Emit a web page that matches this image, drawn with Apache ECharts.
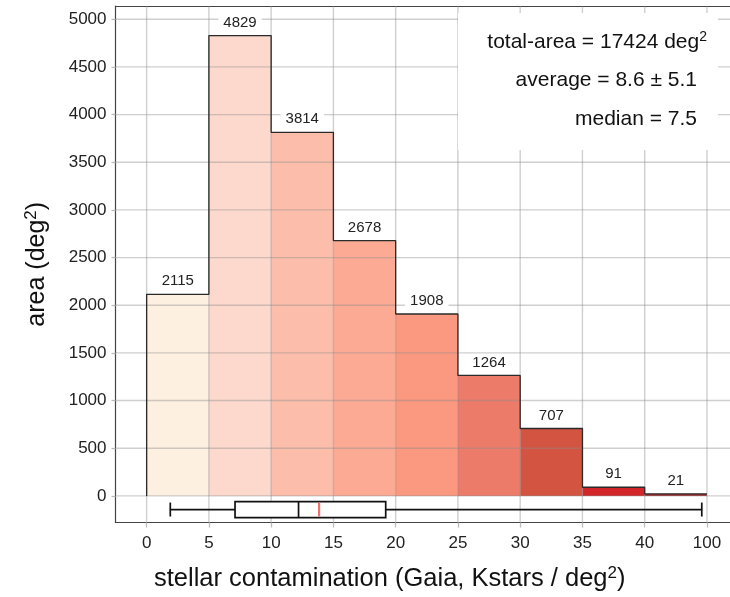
<!DOCTYPE html>
<html><head><meta charset="utf-8">
<script src="https://cdn.jsdelivr.net/npm/echarts@6.0.0/dist/echarts.min.js"></script>
<style>html,body{margin:0;padding:0;background:#fff}#chart{width:730px;height:597px}</style>
</head><body><div id="chart"></div>
<script>
// ---- data ----
const binEdgeLabels = ['0','5','10','15','20','25','30','35','40','100'];
const binEdges = [0,5,10,15,20,25,30,35,40,100];
const areas = [2115,4829,3814,2678,1908,1264,707,91,21];
const yTicks = [0,500,1000,1500,2000,2500,3000,3500,4000,4500,5000];
const boxStats = [1.9, 7.1, 12.2, 19.2, 95]; // low whisker, Q1, median, Q3, high whisker
const meanValue = 13.85;
const statTotal = 'total-area = 17424 deg';
const statAverage = 'average = 8.6 \u00b1 5.1';
const statMedian = 'median = 7.5';

// ---- styles ----
const barColors = ['#fdf0e0','#fdd9cd','#fcbeab','#fcaa94','#fa9880','#ec7b6a','#d45442','#d2262a','#a52a2a'];
const FONT = "'Liberation Sans', Arial, Helvetica, sans-serif";
const GRID_COLOR = 'rgba(140,140,140,0.42)';
const BOX_Y = -143;

function toIdx(v) {
  for (let i = 0; i < binEdges.length - 1; i++) {
    if (v <= binEdges[i + 1]) return i + (v - binEdges[i]) / (binEdges[i + 1] - binEdges[i]);
  }
  return binEdges.length - 1;
}
const tickIdx = binEdges.map((_, i) => i);

const outline = [[0, 0]];
areas.forEach((v, i) => { outline.push([i, v]); outline.push([i + 1, v]); });

const chart = echarts.init(document.getElementById('chart'), null, {renderer: 'canvas'});
chart.setOption({
  animation: false,
  backgroundColor: '#fff',
  textStyle: {fontFamily: FONT},
  grid: {left: 115.5, top: 6, right: 0, bottom: 73, containLabel: false},
  xAxis: [{
    type: 'value', min: -0.5, max: 9.37, position: 'bottom',
    axisLine: {show: true, onZero: false, lineStyle: {color: '#444', width: 1.2}},
    axisTick: {show: true, customValues: tickIdx, length: 5, lineStyle: {color: '#bbb', width: 1.3}},
    axisLabel: {customValues: tickIdx, formatter: v => binEdgeLabels[Math.round(v)], fontSize: 17, color: '#222', margin: 12, fontFamily: FONT},
    splitLine: {show: false},
    name: 'stellar contamination (Gaia, Kstars / deg{sup|2})', nameLocation: 'middle', nameGap: 42,
    nameTextStyle: {fontSize: 25.5, color: '#111', fontFamily: FONT, padding: [0, 66, 0, 0],
      rich: {sup: {fontSize: 17, color: '#111', fontFamily: FONT, padding: [0, 0, 12, 0]}}}
  }, {
    type: 'value', min: -0.5, max: 9.37, position: 'top',
    axisLine: {show: true, onZero: false, lineStyle: {color: '#444', width: 1.2}},
    axisTick: {show: false}, axisLabel: {show: false}, splitLine: {show: false}
  }],
  yAxis: {
    type: 'value', min: -279, max: 5139,
    axisLine: {show: true, onZero: false, lineStyle: {color: '#444', width: 1.2}},
    axisTick: {show: true, customValues: yTicks, length: 4, lineStyle: {color: '#bbb', width: 1.3}},
    axisLabel: {customValues: yTicks, formatter: v => String(v), fontSize: 17, color: '#222', margin: 9, fontFamily: FONT},
    splitLine: {show: false},
    name: 'area (deg{sup|2})', nameLocation: 'middle', nameGap: 64,
    nameTextStyle: {fontSize: 25, color: '#111', fontFamily: FONT,
      rich: {sup: {fontSize: 17, color: '#111', fontFamily: FONT, padding: [0, 0, 12, 0]}}}
  },
  series: [
    { // bars
      type: 'custom', z: 1, silent: true,
      data: areas.map((v, i) => [i, v]),
      renderItem: (params, api) => {
        const i = api.value(0), v = api.value(1);
        const p0 = api.coord([i, 0]), p1 = api.coord([i + 1, v]);
        return {type: 'rect', shape: {x: p0[0], y: p1[1], width: p1[0] - p0[0], height: p0[1] - p1[1]},
                style: {fill: barColors[params.dataIndex]}};
      }
    },
    { // horizontal grid
      type: 'custom', z: 2, silent: true,
      data: yTicks.map(v => [0, v]),
      renderItem: (params, api) => {
        const cs = params.coordSys; const y = api.coord([0, api.value(1)])[1];
        return {type: 'line', shape: {x1: cs.x, y1: y, x2: cs.x + cs.width, y2: y},
                style: {stroke: GRID_COLOR, lineWidth: 1.4}};
      }
    },
    { // vertical grid
      type: 'custom', z: 2, silent: true,
      data: tickIdx.map(i => [i, 0]),
      renderItem: (params, api) => {
        const cs = params.coordSys; const x = api.coord([api.value(0), 0])[0];
        return {type: 'line', shape: {x1: x, y1: cs.y, x2: x, y2: cs.y + cs.height},
                style: {stroke: GRID_COLOR, lineWidth: 1.4}};
      }
    },
    { // histogram outline
      type: 'line', z: 3, silent: true, symbol: 'none',
      data: outline, lineStyle: {color: '#2a2a2a', width: 1.3}
    },
    { // boxplot
      type: 'custom', z: 3, silent: true,
      data: [[0, BOX_Y]],
      renderItem: (params, api) => {
        const yc = api.coord([0, api.value(1)])[1];
        const xs = boxStats.map(v => api.coord([toIdx(v), 0])[0]);
        const xm = api.coord([toIdx(meanValue), 0])[0];
        const st = {stroke: '#111', lineWidth: 1.7, fill: null};
        return {type: 'group', children: [
          {type: 'line', shape: {x1: xs[0], y1: yc, x2: xs[1], y2: yc}, style: st},
          {type: 'line', shape: {x1: xs[3], y1: yc, x2: xs[4], y2: yc}, style: st},
          {type: 'line', shape: {x1: xs[0], y1: yc - 7, x2: xs[0], y2: yc + 7}, style: st},
          {type: 'line', shape: {x1: xs[4], y1: yc - 7, x2: xs[4], y2: yc + 7}, style: st},
          {type: 'rect', shape: {x: xs[1], y: yc - 8, width: xs[3] - xs[1], height: 16}, style: {stroke: '#111', lineWidth: 1.7, fill: '#fff'}},
          {type: 'line', shape: {x1: xs[2], y1: yc - 8, x2: xs[2], y2: yc + 8}, style: st},
          {type: 'line', shape: {x1: xm, y1: yc - 7, x2: xm, y2: yc + 7}, style: {stroke: '#f36f6f', lineWidth: 2.2}}
        ]};
      }
    },
    { // bar value labels
      type: 'custom', z: 4, silent: true,
      data: areas.map((v, i) => [i + 0.5, v]),
      renderItem: (params, api) => {
        const p = api.coord([api.value(0), api.value(1)]);
        return {type: 'text', x: p[0], y: p[1] - 13,
                style: {text: String(areas[params.dataIndex]), fontSize: 15, fontFamily: FONT, fill: '#222',
                        align: 'center', verticalAlign: 'middle', backgroundColor: '#fff', padding: [1, 5]}};
      }
    }
  ],
  graphic: [
    {type: 'rect', z: 100, shape: {x: 458, y: 13, width: 260, height: 137}, style: {fill: '#fff'}},
    {type: 'text', z: 101, x: 707, y: 42, style: {text: statTotal + '{sup|2}', fontSize: 21, fontFamily: FONT, fill: '#111', align: 'right', verticalAlign: 'middle',
      rich: {sup: {fontSize: 14, fontFamily: FONT, fill: '#111', padding: [0, 0, 10, 0]}}}},
    {type: 'text', z: 101, x: 697, y: 80, style: {text: statAverage, fontSize: 21, fontFamily: FONT, fill: '#111', align: 'right', verticalAlign: 'middle'}},
    {type: 'text', z: 101, x: 697, y: 119, style: {text: statMedian, fontSize: 21, fontFamily: FONT, fill: '#111', align: 'right', verticalAlign: 'middle'}}
  ]
});
</script></body></html>
